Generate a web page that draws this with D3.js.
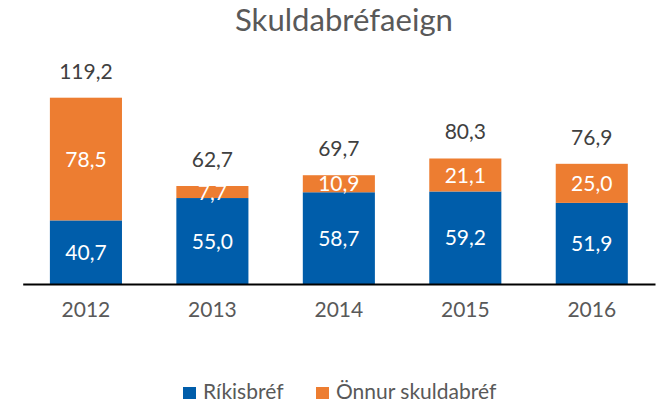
<!DOCTYPE html>
<html><head><meta charset="utf-8">
<script src="https://cdn.jsdelivr.net/npm/d3@7"></script>
<style>body{margin:0;background:#fff}svg{display:block}</style>
</head><body>
<svg id="c" width="662" height="402"></svg>
<script>
const years = ["2012","2013","2014","2015","2016"];
const rikisbref = [40.7, 55.0, 58.7, 59.2, 51.9];
const onnur = [78.5, 7.7, 10.9, 21.1, 25.0];
const totals = [119.2, 62.7, 69.7, 80.3, 76.9];
const seriesNames = ["Ríkisbréf", "Önnur skuldabréf"];
const colors = ["#005DAA", "#ED7D31"];
const title = "Skuldabréfaeign";

const font = "Lato, 'Open Sans', sans-serif";
const svg = d3.select("#c");
const fmt = v => d3.format(".1f")(v).replace(".", ",");

const x = d3.scaleBand().domain(years).range([22.7, 655]).paddingInner(0.43).paddingOuter(0.215);
const y = d3.scaleLinear().domain([0, 119.2]).range([284, 97.7]);

const stacked = years.map((yr, i) => ({yr, a: rikisbref[i], b: onnur[i], t: totals[i]}));

// bars
const g = svg.append("g");
stacked.forEach(d => {
  g.append("rect").attr("x", x(d.yr)).attr("width", x.bandwidth())
    .attr("y", y(d.a)).attr("height", y(0) - y(d.a)).attr("fill", colors[0]);
  g.append("rect").attr("x", x(d.yr)).attr("width", x.bandwidth())
    .attr("y", y(d.a + d.b)).attr("height", y(d.a) - y(d.a + d.b)).attr("fill", colors[1]);
  const cx = x(d.yr) + x.bandwidth() / 2;
  g.append("text").attr("x", cx).attr("y", (y(0) + y(d.a)) / 2).attr("dy", "0.36em")
    .attr("text-anchor", "middle").attr("fill", "#fff").attr("font-family", font).attr("font-size", 21)
    .text(fmt(d.a));
  g.append("text").attr("x", cx).attr("y", (y(d.a) + y(d.a + d.b)) / 2).attr("dy", "0.36em")
    .attr("text-anchor", "middle").attr("fill", "#fff").attr("font-family", font).attr("font-size", 21)
    .text(fmt(d.b));
  g.append("text").attr("x", cx).attr("y", y(d.t) - 19)
    .attr("text-anchor", "middle").attr("fill", "#404040").attr("font-family", font).attr("font-size", 21)
    .text(fmt(d.t));
});

// axis
const ax = svg.append("g").attr("transform", `translate(0,${y(0)})`)
  .call(d3.axisBottom(x).tickSize(0).tickPadding(18));
ax.select(".domain").attr("stroke", "#000").attr("stroke-width", 2);
ax.selectAll("text").attr("font-family", font).attr("font-size", 21).attr("fill", "#595959");

// title
const tt = svg.append("text").attr("x", 344).attr("y", 31).attr("text-anchor", "middle")
  .attr("font-family", font).attr("font-size", 28).attr("fill", "#595959").text(title);
const tw = tt.node().getComputedTextLength();
tt.attr("font-size", 28 * 218 / tw);

// legend
const leg = svg.append("g");
const legX = [183, 316];
seriesNames.forEach((n, i) => {
  leg.append("rect").attr("x", legX[i]).attr("y", 387).attr("width", 13).attr("height", 12).attr("fill", colors[i]);
  leg.append("text").attr("x", legX[i] + 20).attr("y", 399).attr("font-family", font).attr("font-size", 21)
    .attr("fill", "#595959").text(n);
});
</script>
</body></html>
